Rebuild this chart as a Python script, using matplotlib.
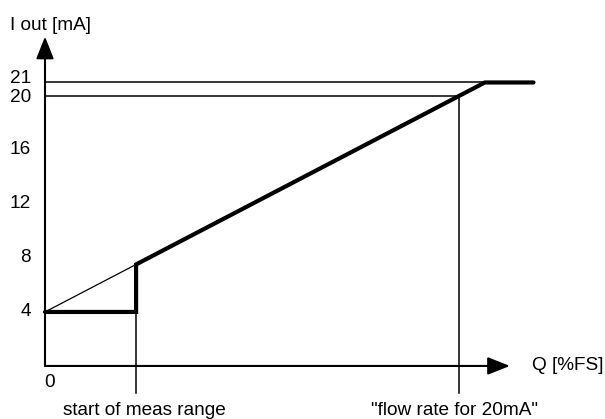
import matplotlib
matplotlib.use("Agg")
import matplotlib.pyplot as plt

plt.rcParams['font.family'] = ['Liberation Sans', 'DejaVu Sans']

# schematic values: Q in %FS, current in mA
q_start = 22          # start of measuring range
q_20ma = 100          # flow rate for 20 mA
i_low = 4
i_20 = 20
i_sat = 21
q_end = 118           # end of the saturated segment
y_ticks = [4, 8, 12, 16, 20, 21]
q_axis_end = 112.3
i_axis_end = 24.4

slope = (i_20 - i_low) / q_20ma
i_at_start = i_low + slope * q_start
q_sat = (i_sat - i_low) / slope

fig = plt.figure(figsize=(6.05, 4.19), dpi=100)
ax = fig.add_axes([0, 0, 1, 1])
ax.set_xlim(-10.87, 135.27)
ax.set_ylim(-3.93, 27.11)
ax.axis('off')

k = 'black'
arr = dict(arrowstyle='-|>,head_length=0.68,head_width=0.27', lw=1.5,
           color=k, shrinkA=0, shrinkB=0, mutation_scale=20)
# axes with arrows
ax.annotate('', xy=(0, i_axis_end), xytext=(0, 0), arrowprops=arr)
ax.annotate('', xy=(q_axis_end, 0), xytext=(0, 0), arrowprops=arr)

# reference lines
ax.plot([0, q_sat], [i_sat, i_sat], color=k, lw=1.1)
ax.plot([0, q_20ma], [i_20, i_20], color=k, lw=1.1)
ax.plot([q_start, q_start], [-2, i_at_start], color=k, lw=1.1)
ax.plot([q_20ma, q_20ma], [-2, i_20], color=k, lw=1.1)

# thin ideal line up to start of range
ax.plot([0, q_start], [i_low, i_at_start], color=k, lw=0.9)

# output characteristic
ax.plot([0, q_start, q_start, q_sat, q_end],
        [i_low, i_low, i_at_start, i_sat, i_sat],
        color=k, lw=3.0, solid_capstyle='round', solid_joinstyle='miter')

fs = 13.7
for t in y_ticks:
    # pull the two top labels apart a bit so they don't collide
    dy = 0.3 if t == i_sat else (-0.1 if t == i_20 else 0)
    ax.text(-3.4, t + dy, str(t), ha='right', va='center', fontsize=fs)
ax.text(1.2, -1.25, '0', ha='center', va='center', fontsize=fs)
ax.text(-8.45, 25.2, 'I out [mA]', ha='left', va='center', fontsize=fs)
ax.text(117.6, 0, 'Q [%FS]', ha='left', va='center', fontsize=fs)
ax.text(23.9, -3.3, 'start of meas range', ha='center', va='center', fontsize=fs)
ax.text(98.8, -3.3, '"flow rate for 20mA"', ha='center', va='center', fontsize=fs)

fig.savefig('out.png', dpi=100)
